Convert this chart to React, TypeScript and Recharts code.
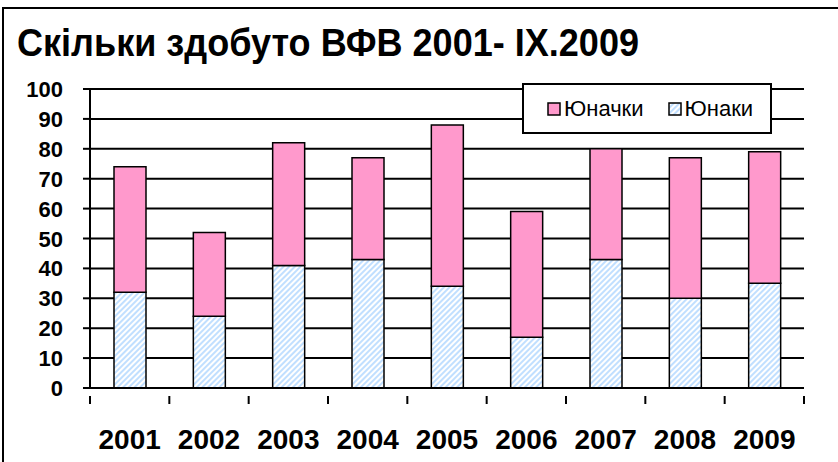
import { BarChart, Bar, XAxis, YAxis, CartesianGrid, Legend } from "recharts";

const years = ["2001", "2002", "2003", "2004", "2005", "2006", "2007", "2008", "2009"];
const boys = [32, 24, 41, 43, 34, 17, 43, 30, 35];
const girls = [42, 28, 41, 34, 54, 42, 37, 47, 44];
const yTicks = [0, 10, 20, 30, 40, 50, 60, 70, 80, 90, 100];

const data = years.map((year, i) => ({ year, boys: boys[i], girls: girls[i] }));

const FONT = "Arial, 'Liberation Sans', sans-serif";
const PINK = "#ff99cc";
const HATCH = "#a6d2ff";

function YearTick(props: any) {
  const { x, y, payload, index } = props;
  const half = payload.offset ?? 0;
  return (
    <g>
      <line x1={x - half} x2={x - half} y1={y} y2={y + 8} stroke="#000" strokeWidth={2} />
      {index === years.length - 1 && (
        <line x1={x + half} x2={x + half} y1={y} y2={y + 8} stroke="#000" strokeWidth={2} />
      )}
      <text x={x} y={y + 53} textAnchor="middle" fontFamily={FONT} fontWeight="bold" fontSize={28} fill="#000">
        {payload.value}
      </text>
    </g>
  );
}

function ValueTick(props: any) {
  const { x, y, payload } = props;
  return (
    <g>
      <line x1={x + 20} x2={x + 27} y1={y} y2={y} stroke="#000" strokeWidth={2} />
      <text x={x} y={y + 8} textAnchor="end" fontFamily={FONT} fontWeight="bold" fontSize={22} fill="#000">
        {payload.value}
      </text>
    </g>
  );
}

function LegendBox(props: any) {
  const items = [...(props.payload || [])].reverse();
  return (
    <div
      style={{
        width: 246,
        height: 47,
        border: "2px solid #000",
        background: "#fff",
        display: "flex",
        alignItems: "center",
        fontFamily: FONT,
        fontSize: 22,
        boxSizing: "content-box",
      }}
    >
      {items.map((it: any, i: number) => (
        <div key={it.value} style={{ display: "flex", alignItems: "center", marginLeft: i === 0 ? 23 : 24 }}>
          <svg width={14} height={14} style={{ marginRight: 3 }}>
            <rect x={1} y={1} width={12} height={12} fill={it.dataKey === "boys" ? "url(#hatch)" : PINK} stroke="#000" strokeWidth={1.5} />
          </svg>
          <span>{it.value}</span>
        </div>
      ))}
    </div>
  );
}

export default function App() {
  return (
    <div style={{ position: "absolute", left: 0, top: 0, width: 838, height: 462, background: "#fff" }}>
      <svg width={838} height={462} style={{ position: "absolute", left: 0, top: 0 }}>
        <rect x={3} y={8} width={840} height={460} fill="#fff" stroke="#000" strokeWidth={2} />
        <text
          x={17}
          y={56}
          fontFamily={FONT}
          fontWeight="bold"
          fontSize={38}
          fill="#000"
          textLength={622}
          lengthAdjust="spacingAndGlyphs"
        >
          Скільки здобуто ВФВ 2001- IX.2009
        </text>
      </svg>
      <div style={{ position: "absolute", left: 0, top: 0 }}>
        <BarChart
          width={838}
          height={462}
          data={data}
          margin={{ top: 89, right: 34, left: 0, bottom: 0 }}
          barSize={32}
        >
          <defs>
            <pattern id="hatch" width={4} height={4} patternUnits="userSpaceOnUse" patternTransform="rotate(45)">
              <rect width={4} height={4} fill="#fff" />
              <line x1={1} y1={0} x2={1} y2={4} stroke={HATCH} strokeWidth={1.4} />
            </pattern>
          </defs>
          <CartesianGrid vertical={false} stroke="#000" strokeWidth={2} />
          <XAxis
            dataKey="year"
            height={74}
            axisLine={{ stroke: "#000", strokeWidth: 2 }}
            tickLine={false}
            tick={<YearTick />}
            interval={0}
          />
          <YAxis
            width={90}
            domain={[0, 100]}
            ticks={yTicks}
            interval={0}
            tickSize={7}
            tickMargin={20}
            axisLine={{ stroke: "#000", strokeWidth: 2 }}
            tickLine={false}
            tick={<ValueTick />}
          />
          <XAxis xAxisId="top" orientation="top" dataKey="year" height={0} tick={false} tickLine={false} axisLine={{ stroke: "#8c8c8c", strokeWidth: 2 }} />
          <YAxis yAxisId="right" orientation="right" width={0} domain={[0, 100]} tick={false} tickLine={false} axisLine={{ stroke: "#8c8c8c", strokeWidth: 2 }} />
          <Legend
            layout="horizontal"
            align="center"
            verticalAlign="middle"
            wrapperStyle={{ left: 522, top: 83, width: 250 }}
            content={<LegendBox />}
          />
          <Bar dataKey="boys" name="Юнаки" stackId="a" fill="url(#hatch)" stroke="#000" strokeWidth={1.5} isAnimationActive={false} />
          <Bar dataKey="girls" name="Юначки" stackId="a" fill={PINK} stroke="#000" strokeWidth={1.5} isAnimationActive={false} />
        </BarChart>
      </div>
    </div>
  );
}
